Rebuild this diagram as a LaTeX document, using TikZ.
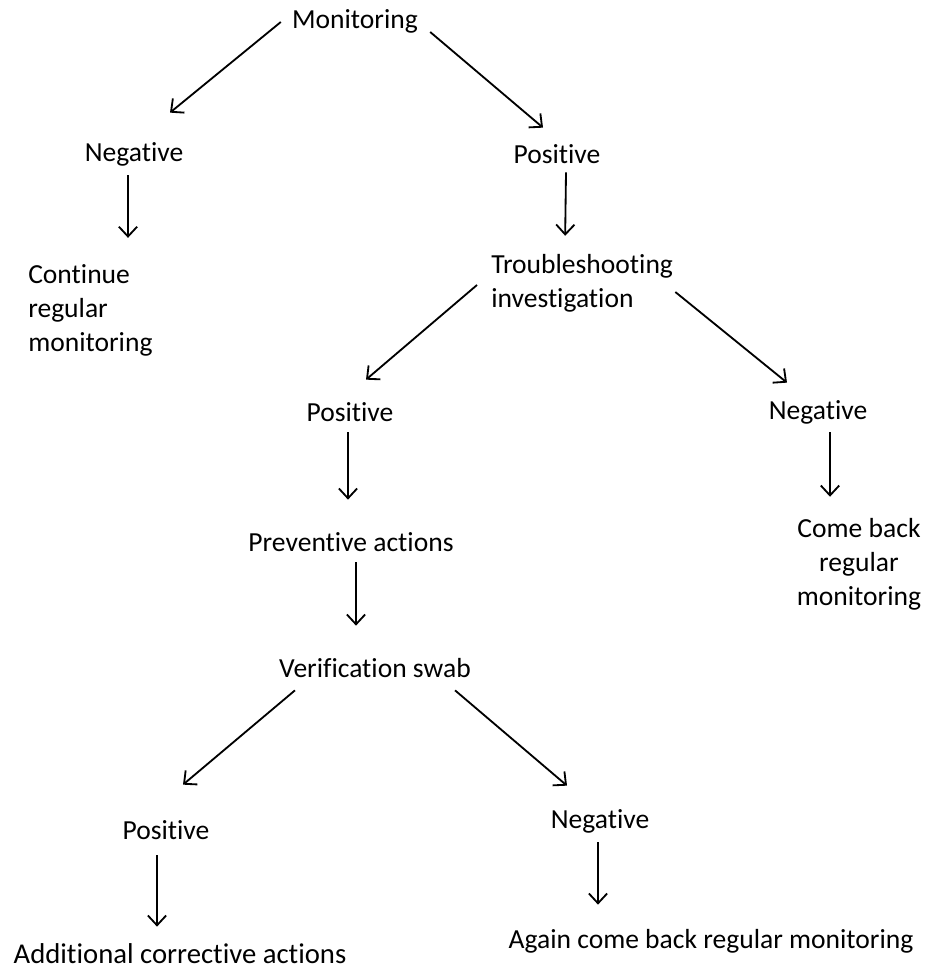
\documentclass[tikz,border=0pt]{standalone}
\usepackage{fontspec}
\setmainfont{Carlito}[Ligatures = NoCommon]
\usetikzlibrary{arrows.meta}

\tikzset{
	word/.style = {inner sep = 0pt, text height = 13.7pt, text depth = 4.9pt,
		font = \fontsize{19.6pt}{24.2pt}\selectfont},
	block/.style = {inner sep = 0pt,
		font = \fontsize{19.6pt}{24.2pt}\selectfont},
	arr/.style = {line width = 1.3pt, -{Straight Barb[length = 7pt, width = 13pt]}}
}

\begin{document}
\begin{tikzpicture}[x = 0.025cm, y = -0.025cm]%
		\useasboundingbox (0, 0) rectangle (936, 971);

		% top
		\node[word] (mon) at (355, 22) {Monitoring};
		\node[word] (negA) at (134, 155) {Negative};
		\node[word] (posA) at (557, 157) {Positive};
		\node[block, anchor = west, align = left] (cont) at (28, 310) {Continue\\regular\\monitoring};
		\node[block, anchor = west, align = left] (trouble) at (491, 283) {Troubleshooting\\investigation};

		% middle
		\node[word] (posB) at (350, 415) {Positive};
		\node[word] (negB) at (818, 413) {Negative};
		\node[block, align = center] (comeback) at (859, 564) {Come back\\regular\\monitoring};
		\node[word] (prevent) at (351, 545) {Preventive actions};
		\node[word] (verif) at (375, 671) {Verification swab};

		% bottom
		\node[word] (posC) at (166, 833) {Positive};
		\node[word] (negC) at (600, 822) {Negative};
		\node[word, font = \fontsize{20.4pt}{25pt}\selectfont] (additional) at (180, 957) {Additional corrective actions};
		\node[word] (again) at (711, 942) {Again come back regular monitoring};

		% arrows
		\draw[arr] ([shift = {(-11, 0)}]mon.west) -- ([shift = {(36, -29)}]negA.north);
		\draw[arr] ([shift = {(12, 10)}]mon.east) -- ([shift = {(-14, -16)}]posA.north);
		\draw[arr] ([shift = {(-6, 7)}]negA.south) -- ([shift = {(100, -26)}]cont.north west);
		\draw[arr] ([shift = {(9, 2)}]posA.south) -- ([shift = {(-17, -18)}]trouble.north);
		\draw[arr] ([shift = {(-14, 2)}]trouble.west) -- ([shift = {(16, -22)}]posB.north);
		\draw[arr] ([shift = {(2, 9)}]trouble.east) -- ([shift = {(-31, -17)}]negB.north);
		\draw[arr] ([shift = {(-2, 4)}]posB.south) -- ([shift = {(-3, -32)}]prevent.north);
		\draw[arr] ([shift = {(12, 6)}]negB.south) -- ([shift = {(-29, -21)}]comeback.north);
		\draw[arr] ([shift = {(5, 4)}]prevent.south) -- ([shift = {(-19, -32)}]verif.north);
		\draw[arr] ([shift = {(16, 6)}]verif.south west) -- ([shift = {(17, -35)}]posC.north);
		\draw[arr] ([shift = {(-16, 6)}]verif.south east) -- ([shift = {(-33, -23)}]negC.north);
		\draw[arr] ([shift = {(-9, 9)}]posC.south) -- ([shift = {(-23, -17)}]additional.north);
		\draw[arr] ([shift = {(-2, 7)}]negC.south) -- ([shift = {(-113, -24)}]again.north);
	\end{tikzpicture}
\end{document}
